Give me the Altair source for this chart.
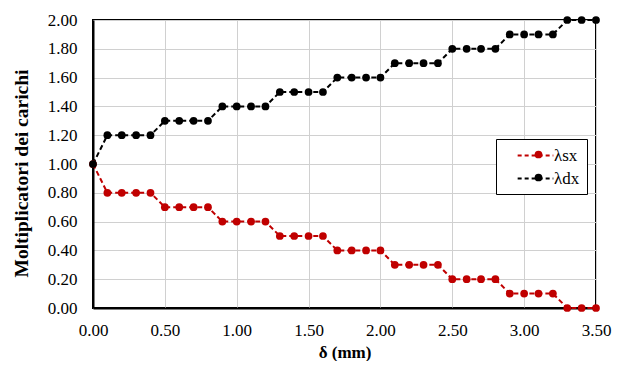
import altair as alt
import pandas as pd

x_mm = [0.0, 0.1, 0.2, 0.3, 0.4, 0.5, 0.6, 0.7, 0.8, 0.9, 1.0, 1.1, 1.2,
        1.3, 1.4, 1.5, 1.6, 1.7, 1.8, 1.9, 2.0, 2.1, 2.2, 2.3, 2.4, 2.5,
        2.6, 2.7, 2.8, 2.9, 3.0, 3.1, 3.2, 3.3, 3.4, 3.5]
lambda_sx = [1.0, 0.8, 0.8, 0.8, 0.8, 0.7, 0.7, 0.7, 0.7, 0.6, 0.6, 0.6, 0.6,
             0.5, 0.5, 0.5, 0.5, 0.4, 0.4, 0.4, 0.4, 0.3, 0.3, 0.3, 0.3, 0.2,
             0.2, 0.2, 0.2, 0.1, 0.1, 0.1, 0.1, 0.0, 0.0, 0.0]
lambda_dx = [1.0, 1.2, 1.2, 1.2, 1.2, 1.3, 1.3, 1.3, 1.3, 1.4, 1.4, 1.4, 1.4,
             1.5, 1.5, 1.5, 1.5, 1.6, 1.6, 1.6, 1.6, 1.7, 1.7, 1.7, 1.7, 1.8,
             1.8, 1.8, 1.8, 1.9, 1.9, 1.9, 1.9, 2.0, 2.0, 2.0]
x_ticks = [0.0, 0.5, 1.0, 1.5, 2.0, 2.5, 3.0, 3.5]
y_ticks = [0.0, 0.2, 0.4, 0.6, 0.8, 1.0, 1.2, 1.4, 1.6, 1.8, 2.0]
series_names = ["λsx", "λdx"]
marker_keys = ["marker sx", "marker dx"]  # separate key so the marker legend is not merged
series_colors = ["#C00000", "#000000"]

df = pd.concat([
    pd.DataFrame({"x": x_mm, "y": lambda_sx, "s": series_names[0], "m": marker_keys[0]}),
    pd.DataFrame({"x": x_mm, "y": lambda_dx, "s": series_names[1], "m": marker_keys[1]}),
])

FONT = "Liberation Serif"

axis_style = dict(
    labelFont=FONT, labelFontSize=17, labelColor="black",
    titleFont=FONT, titleFontWeight="bold", titleColor="black",
    gridColor="#d0d0d0", gridWidth=1, gridOpacity=1, grid=True,
    domainColor="black", domainWidth=2,
    ticks=False, labelOverlap=False, labelFlush=False, format=".2f",
)

base = alt.Chart(df).encode(
    x=alt.X("x:Q", scale=alt.Scale(domain=[0, 3.5], nice=False, zero=False),
            axis=alt.Axis(values=x_ticks, title="δ (mm)", titleFontSize=17,
                          labelPadding=14, titlePadding=6, **axis_style)),
    y=alt.Y("y:Q", scale=alt.Scale(domain=[0, 2], nice=False),
            axis=alt.Axis(values=y_ticks, title="Moltiplicatori dei carichi",
                          titleFontSize=19.5, labelPadding=16, titlePadding=16,
                          titleY=153, **axis_style)),
)

LX, LY, PAD = 403, 119, 7

lines = base.mark_line(strokeDash=[5, 3], strokeWidth=2).encode(
    stroke=alt.Stroke(
        "s:N", scale=alt.Scale(domain=series_names, range=series_colors),
        sort=series_names,
        legend=alt.Legend(
            title=None, orient="none", legendX=LX, legendY=LY,
            fillColor="white", strokeColor="black", padding=PAD,
            labelFont=FONT, labelFontSize=17, labelColor="black",
            symbolType="M-2.1,0H2.1", symbolSize=289, symbolDash=[4, 3],
            symbolStrokeWidth=2, symbolOffset=23, labelOffset=9,
            rowPadding=5, zindex=1,
        ),
    ),
    detail="s:N",
)
points = base.mark_circle(size=60, opacity=1).encode(
    fill=alt.Fill(
        "m:N", scale=alt.Scale(domain=marker_keys, range=series_colors),
        sort=marker_keys,
        legend=alt.Legend(
            title=None, orient="none", legendX=LX, legendY=LY,
            padding=PAD, labelFont=FONT, labelFontSize=17, labelExpr="' '",
            symbolType="circle", symbolSize=60, symbolStrokeWidth=0,
            symbolOpacity=1, symbolOffset=27, labelOffset=9, rowPadding=5,
            zindex=2,
        ),
    ),
)

chart = alt.layer(lines, points).properties(
    width=503, height=288,
    autosize=alt.AutoSizeParams(type="none"),
    padding={"left": 85, "top": 12, "right": 16, "bottom": 53},
).configure_view(
    stroke="black", strokeWidth=2
)

chart.save("out.html", embed_options={"renderer": "svg", "actions": False})
